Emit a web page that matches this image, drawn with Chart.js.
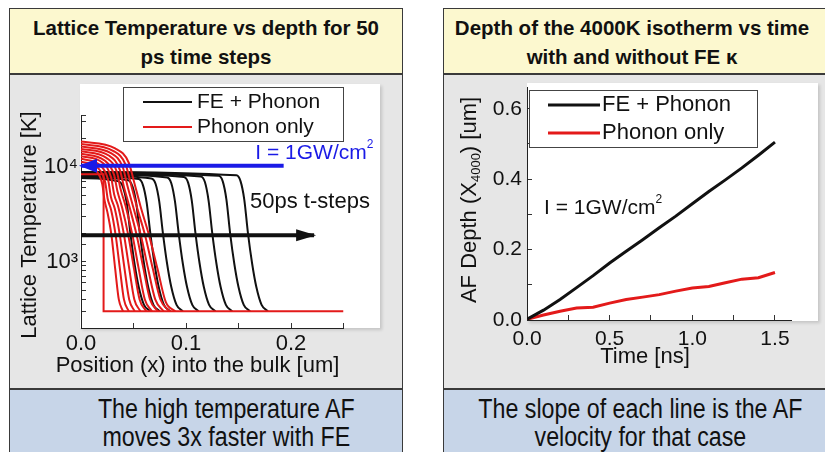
<!DOCTYPE html>
<html>
<head>
<meta charset="utf-8">
<script src="https://cdn.jsdelivr.net/npm/chart.js@4.4.1/dist/chart.umd.min.js"></script>
<style>
  body { margin: 0; width: 825px; height: 452px; position: relative; overflow: hidden; background: #fff;
         font-family: 'Liberation Sans', Arial, sans-serif; }
  .panel { position: absolute; top: 8px; width: 392px; height: 470px; border: 1px solid #3a3a3a; background: #e6e6e6; }
  .head { position: absolute; left: 0; right: 0; top: 0; height: 66px; box-sizing: border-box; padding-top: 4px;
          background: #fcf8cf; border-bottom: 2px solid #3a3a3a; font-weight: bold; font-size: 20.5px;
          line-height: 29px; text-align: center; white-space: nowrap; color: #111; }
  .foot { position: absolute; left: 0; right: 0; top: 379px; bottom: 0; box-sizing: border-box; padding-top: 5px;
          background: #c7d5e8; border-top: 2px solid #3a3a3a; font-size: 27px; line-height: 28px;
          text-align: center; white-space: nowrap; color: #111; }
  .narrow { display: inline-block; transform: scaleX(0.86); transform-origin: center top; }
  .sheet { position: absolute; background: #fff; box-shadow: 2px 2px 3px rgba(0,0,0,0.15); }
  canvas { position: absolute; }
</style>
</head>
<body>
<div class="panel" style="left:9px">
  <div class="head">Lattice Temperature vs depth for 50<br>ps time steps</div>
  <div class="foot" style="padding-left:40px"><span class="narrow">The high temperature AF<br>moves 3x faster with FE</span></div>
</div>
<div class="panel" style="left:443px">
  <div class="head" style="padding-right:16px">Depth of the 4000K isotherm vs time<br>with and without FE &kappa;</div>
  <div class="foot"><span class="narrow">The slope of each line is the AF<br>velocity for that case</span></div>
</div>
<div class="sheet" style="left:80px;top:84px;width:300px;height:244px"></div>
<div class="sheet" style="left:527px;top:83px;width:291px;height:238px"></div>
<canvas id="profileChart" width="388" height="308" style="left:15px;top:80px"></canvas>
<canvas id="depthChart" width="382" height="323" style="left:443px;top:65px"></canvas>
<script>
// ---- left chart: temperature profiles, [depth um, T K] ----
const fePhononProfiles = [
  [[0,7600],[0.036,7000],[0.040,6100],[0.0435,4200],[0.047,2000],[0.051,950],[0.055,540],[0.060,350],[0.066,300]],
  [[0,7800],[0.045,7200],[0.049,6200],[0.0525,4200],[0.056,2000],[0.060,950],[0.064,540],[0.069,350],[0.075,300]],
  [[0,8000],[0.055,7400],[0.059,6400],[0.0625,4200],[0.066,2000],[0.070,950],[0.074,540],[0.079,350],[0.085,300]],
  [[0,8200],[0.067,7500],[0.071,6600],[0.0745,4300],[0.078,2000],[0.082,950],[0.086,540],[0.091,350],[0.097,300]],
  [[0,8400],[0.082,7700],[0.086,6700],[0.0895,4300],[0.093,2000],[0.097,950],[0.101,540],[0.106,350],[0.112,300]],
  [[0,8500],[0.098,7800],[0.102,6800],[0.1055,4400],[0.109,2000],[0.113,950],[0.117,540],[0.122,350],[0.128,300]],
  [[0,8600],[0.114,7900],[0.118,6900],[0.1215,4400],[0.125,2000],[0.129,950],[0.133,540],[0.138,350],[0.144,300]],
  [[0,8700],[0.131,8000],[0.135,7000],[0.1385,4500],[0.142,2000],[0.146,950],[0.150,540],[0.155,350],[0.161,300]],
  [[0,8800],[0.148,8100],[0.152,7000],[0.1555,4500],[0.159,2000],[0.163,950],[0.167,540],[0.172,350],[0.178,300]]
];
const phononOnlyProfiles = [
  [[0,10500],[0.0145,9000],[0.0203,6500],[0.0223,4500],[0.0252,3300],[0.029,1900],[0.0325,850],[0.036,400],[0.040,300]],
  [[0,11300],[0.0165,9600],[0.0231,6800],[0.0254,4600],[0.0287,3500],[0.033,1900],[0.037,850],[0.0409,400],[0.0455,300]],
  [[0,12100],[0.0185,10300],[0.0259,7200],[0.0285,4800],[0.0322,3600],[0.037,1900],[0.0414,850],[0.0459,400],[0.0511,300]],
  [[0,12900],[0.0205,11000],[0.0287,7700],[0.0316,5100],[0.0357,3700],[0.041,1900],[0.0459,850],[0.0508,400],[0.0566,300]],
  [[0,13700],[0.0225,11600],[0.0315,8200],[0.0347,5500],[0.0392,3700],[0.045,1900],[0.0504,850],[0.0558,400],[0.0621,300]],
  [[0,14500],[0.0245,12300],[0.0343,8700],[0.0377,5800],[0.0426,3800],[0.049,1900],[0.0549,850],[0.0608,400],[0.0676,300]],
  [[0,15400],[0.0265,13100],[0.0371,9200],[0.0408,6200],[0.0461,3800],[0.053,1900],[0.0594,850],[0.0657,400],[0.0731,300]],
  [[0,16300],[0.0285,13900],[0.0399,9800],[0.0439,6500],[0.0496,3800],[0.057,1900],[0.0638,850],[0.0707,400],[0.0787,300]],
  [[0,17300],[0.0305,14700],[0.0427,10400],[0.047,6900],[0.0531,3800],[0.061,1900],[0.0683,850],[0.0756,400],[0.0842,300]],
  [[0,18400],[0.0325,15600],[0.0455,11000],[0.05,7300],[0.0566,3860],[0.065,1860],[0.0728,845],[0.0806,380],[0.0897,300]]
];
const initialStep = [[0,8300],[0.0215,8300],[0.0215,300],[0.25,300]];
const intensityArrowX = [0.193, 0.0];
const intensityArrowT = [10240, 10240];
const stepArrowX = [0.0, 0.222];
const stepArrowT = [1900, 1900];

// ---- right chart: depth of the 4000K isotherm ----
const timeNs = [0, 0.1, 0.2, 0.3, 0.4, 0.5, 0.6, 0.7, 0.8, 0.9, 1.0, 1.1, 1.2, 1.3, 1.4, 1.5];
const feDepth = [0.002, 0.028, 0.058, 0.092, 0.126, 0.162, 0.195, 0.228, 0.262, 0.295, 0.330, 0.365, 0.398, 0.432, 0.468, 0.505];
const phononDepth = [0.002, 0.014, 0.025, 0.034, 0.036, 0.048, 0.058, 0.065, 0.072, 0.082, 0.091, 0.095, 0.106, 0.116, 0.120, 0.135];

const FONT = "'Liberation Sans', Arial, sans-serif";
const BLACK = '#111111';
const RED = '#e31a1a';
const BLUE = '#1a1ae6';

Chart.defaults.font.family = FONT;
Chart.defaults.color = BLACK;

const toXY = (pts) => pts.map(([x, y]) => ({ x, y }));
const zipXY = (xs, ys) => xs.map((x, i) => ({ x, y: ys[i] }));

// text with optional super/subscript parts
function drawParts(ctx, parts, x, y, size, align) {
  const fontOf = (p) => (p.mode ? Math.round(size * 0.58) : size) + 'px ' + FONT;
  const widths = parts.map(p => { ctx.font = fontOf(p); return ctx.measureText(p.t).width; });
  const total = widths.reduce((a, b) => a + b, 0);
  let cx = align === 'center' ? x - total / 2 : x;
  ctx.textAlign = 'left';
  ctx.textBaseline = 'middle';
  parts.forEach((p, i) => {
    ctx.font = fontOf(p);
    let dy = 0;
    if (p.mode === 'sup') dy = -size * 0.4;
    if (p.mode === 'sub') dy = size * 0.3;
    ctx.fillText(p.t, cx, y + dy);
    cx += widths[i];
  });
}

const slideOverlay = {
  id: 'slideOverlay',
  afterDatasetsDraw(chart, args, opts) {
    const ctx = chart.ctx;
    const xs = chart.scales.x, ys = chart.scales.y;
    ctx.save();
    // arrow heads at the last point of the arrow datasets
    (opts.arrows || []).forEach(a => {
      const d = chart.data.datasets[a.dataset].data;
      const n = d.length;
      const x0 = xs.getPixelForValue(d[n - 2].x), y0 = ys.getPixelForValue(d[n - 2].y);
      const x1 = xs.getPixelForValue(d[n - 1].x), y1 = ys.getPixelForValue(d[n - 1].y);
      const ang = Math.atan2(y1 - y0, x1 - x0);
      const c = Math.cos(ang), s = Math.sin(ang);
      const tx = x1 + c * 2, ty = y1 + s * 2;
      const bx = tx - c * a.len, by = ty - s * a.len;
      ctx.fillStyle = chart.data.datasets[a.dataset].borderColor;
      ctx.beginPath();
      ctx.moveTo(tx, ty);
      ctx.lineTo(bx - s * a.half, by + c * a.half);
      ctx.lineTo(bx + s * a.half, by - c * a.half);
      ctx.closePath();
      ctx.fill();
    });
    // notes placed at data coordinates
    (opts.notes || []).forEach(nt => {
      ctx.fillStyle = nt.color;
      drawParts(ctx, nt.parts, xs.getPixelForValue(nt.x), ys.getPixelForValue(nt.y), nt.size, 'left');
    });
    // legend box
    const lg = opts.legend;
    if (lg) {
      ctx.fillStyle = '#fff';
      ctx.fillRect(lg.box[0], lg.box[1], lg.box[2], lg.box[3]);
      ctx.strokeStyle = '#444';
      ctx.lineWidth = 1;
      ctx.strokeRect(lg.box[0] + 0.5, lg.box[1] + 0.5, lg.box[2], lg.box[3]);
      lg.rows.forEach((r, i) => {
        const yy = lg.rowY[i];
        ctx.strokeStyle = r.color;
        ctx.lineWidth = lg.lineWidth;
        ctx.beginPath();
        ctx.moveTo(lg.lineX[0], yy);
        ctx.lineTo(lg.lineX[1], yy);
        ctx.stroke();
        ctx.fillStyle = BLACK;
        drawParts(ctx, [{ t: r.label }], lg.textX, yy, lg.size, 'left');
      });
    }
    // axis titles
    ctx.fillStyle = BLACK;
    const xt = opts.xTitle;
    drawParts(ctx, xt.parts, xt.cx, xt.cy, xt.size, 'center');
    const yt = opts.yTitle;
    ctx.save();
    ctx.translate(yt.cx, yt.cy);
    ctx.rotate(-Math.PI / 2);
    drawParts(ctx, yt.parts, 0, 0, yt.size, 'center');
    ctx.restore();
    ctx.restore();
  }
};

const tickGrid = { drawOnChartArea: false, drawTicks: true, tickLength: -5, color: '#333' };
const axisBorder = { color: '#222', width: 1 };

// ---------------- left chart ----------------
const profileSets = [];
profileSets.push({ data: zipXY(intensityArrowX, intensityArrowT), borderColor: BLUE, borderWidth: 4, order: 0 });
profileSets.push({ data: zipXY(stepArrowX, stepArrowT), borderColor: BLACK, borderWidth: 4, order: 0 });
profileSets.push({ data: toXY(initialStep), borderColor: RED, borderWidth: 2, order: 1, tension: 0 });
phononOnlyProfiles.forEach(p => profileSets.push({ data: toXY(p), borderColor: RED, borderWidth: 2, order: 1, cubicInterpolationMode: 'monotone' }));
fePhononProfiles.forEach(p => profileSets.push({ data: toXY(p), borderColor: BLACK, borderWidth: 2, order: 2, cubicInterpolationMode: 'monotone' }));
profileSets.forEach(d => { d.pointRadius = 0; d.fill = false; });

new Chart(document.getElementById('profileChart'), {
  type: 'line',
  data: { datasets: profileSets },
  options: {
    responsive: false,
    animation: false,
    layout: { padding: { left: 0, top: 35, right: 59.5, bottom: 0 } },
    plugins: {
      legend: { display: false },
      tooltip: { enabled: false },
      slideOverlay: {
        arrows: [{ dataset: 0, len: 18, half: 7 }, { dataset: 1, len: 20, half: 6 }],
        notes: [
          { parts: [{ t: 'I = 1GW/cm' }, { t: '2', mode: 'sup' }], x: 0.166, y: 14000, size: 21, color: BLUE },
          { parts: [{ t: '50ps t-steps' }], x: 0.161, y: 4220, size: 22, color: BLACK }
        ],
        legend: {
          box: [108, 7, 220, 54], lineX: [128, 177], rowY: [22, 47], textX: 182, size: 21, lineWidth: 2,
          rows: [{ label: 'FE + Phonon', color: BLACK }, { label: 'Phonon only', color: RED }]
        },
        xTitle: { parts: [{ t: 'Position (x) into the bulk [um]' }], cx: 182.5, cy: 286, size: 22 },
        yTitle: { parts: [{ t: 'Lattice Temperature [K]' }], cx: 15, cy: 145, size: 22 }
      }
    },
    scales: {
      x: {
        type: 'linear', min: 0, max: 0.25,
        border: axisBorder, grid: tickGrid,
        ticks: {
          stepSize: 0.05, autoSkip: false, includeBounds: false, maxRotation: 0, padding: 8, font: { size: 22 },
          callback: (v) => { const r = Math.round(v * 10); return Math.abs(v * 10 - r) < 1e-6 ? (r / 10).toFixed(1) : ''; }
        },
        afterFit: (s) => { s.height = 60; }
      },
      y: {
        type: 'logarithmic', min: 200, max: 35000,
        border: axisBorder, grid: tickGrid,
        ticks: {
          autoSkip: false, padding: 8, font: { size: 22 },
          callback: (v) => {
            const e = Math.log10(v);
            if (Math.abs(e - 3) < 1e-9) return '10\u00b3';
            if (Math.abs(e - 4) < 1e-9) return '10\u2074';
            return '';
          }
        },
        afterFit: (s) => { s.width = 66; }
      }
    }
  },
  plugins: [slideOverlay]
});

// ---------------- right chart ----------------
new Chart(document.getElementById('depthChart'), {
  type: 'line',
  data: {
    datasets: [
      { data: zipXY(timeNs, feDepth), borderColor: BLACK, borderWidth: 3, pointRadius: 0, fill: false, tension: 0 },
      { data: zipXY(timeNs, phononDepth), borderColor: RED, borderWidth: 3, pointRadius: 0, fill: false, tension: 0 }
    ]
  },
  options: {
    responsive: false,
    animation: false,
    layout: { padding: { left: 0, top: 20.7, right: 33.5, bottom: 0 } },
    plugins: {
      legend: { display: false },
      tooltip: { enabled: false },
      slideOverlay: {
        notes: [
          { parts: [{ t: 'I = 1GW/cm' }, { t: '2', mode: 'sup' }], x: 0.103, y: 0.318, size: 21, color: BLACK }
        ],
        legend: {
          box: [86, 25, 228, 57], lineX: [105, 157], rowY: [40, 68], textX: 159, size: 22, lineWidth: 3,
          rows: [{ label: 'FE + Phonon', color: BLACK }, { label: 'Phonon only', color: RED }]
        },
        xTitle: { parts: [{ t: 'Time [ns]' }], cx: 202, cy: 292, size: 22 },
        yTitle: { parts: [{ t: 'AF Depth (X' }, { t: '4000', mode: 'sub' }, { t: ') [um]' }], cx: 27, cy: 135, size: 22 }
      }
    },
    scales: {
      x: {
        type: 'linear', min: 0, max: 1.6,
        border: axisBorder, grid: tickGrid,
        ticks: {
          stepSize: 0.25, autoSkip: false, includeBounds: false, maxRotation: 0, padding: 12, font: { size: 21 },
          callback: (v) => { const r = Math.round(v * 2); return Math.abs(v * 2 - r) < 1e-6 ? (r / 2).toFixed(1) : ''; }
        },
        afterFit: (s) => { s.height = 68; }
      },
      y: {
        type: 'linear', min: 0, max: 0.66,
        border: axisBorder, grid: tickGrid,
        ticks: {
          stepSize: 0.1, autoSkip: false, includeBounds: false, padding: 10, font: { size: 21 },
          callback: (v) => { const r = Math.round(v * 10); return (Math.abs(v * 10 - r) < 1e-6 && r % 2 === 0) ? (r / 10).toFixed(1) : ''; }
        },
        afterFit: (s) => { s.width = 84; }
      }
    }
  },
  plugins: [slideOverlay]
});
</script>
</body>
</html>
